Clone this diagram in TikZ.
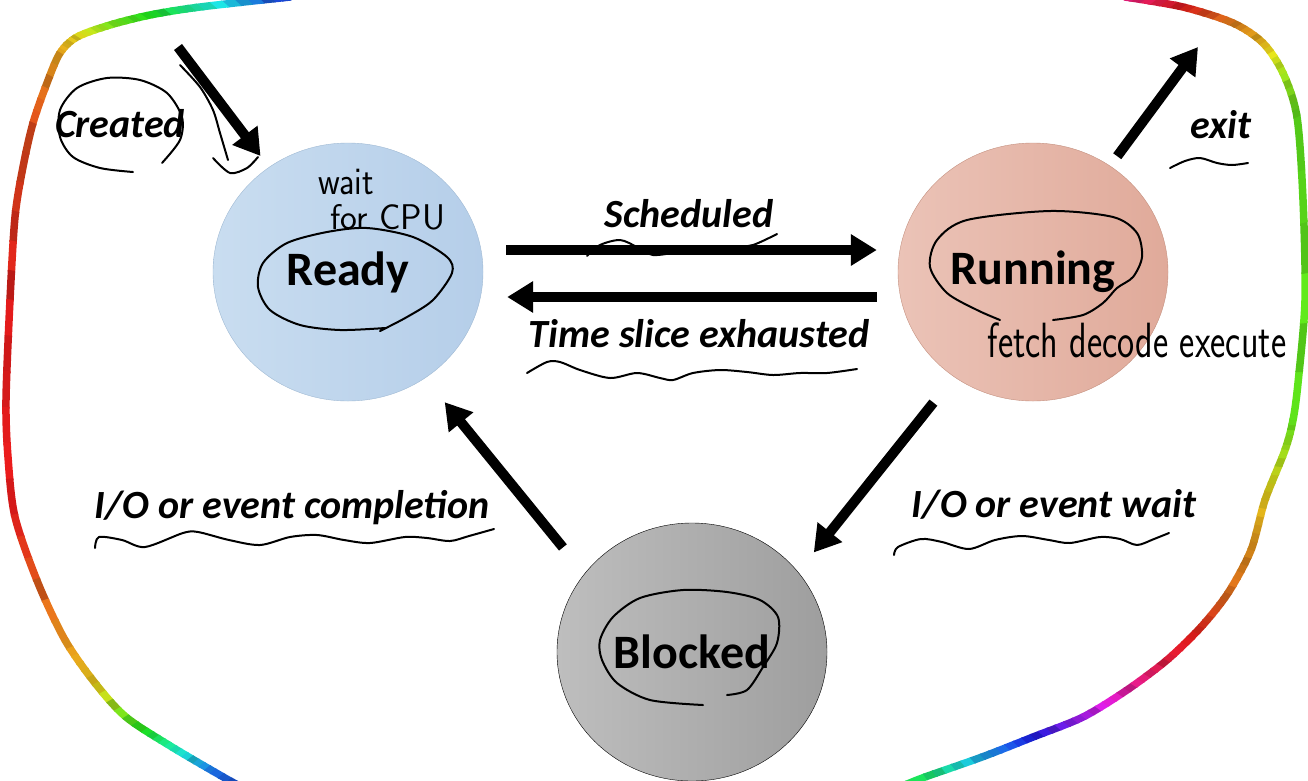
\documentclass[tikz,border=0pt]{standalone}
\usepackage{fontspec}
\setmainfont{Carlito}
\usepackage{tikz}
\usetikzlibrary{arrows.meta,shapes.geometric}

\definecolor{readyL}{HTML}{C9DDF0}
\definecolor{readyR}{HTML}{B5CEE9}
\definecolor{readyedge}{HTML}{9FB9D3}
\definecolor{runL}{HTML}{EBC3B7}
\definecolor{runR}{HTML}{E0AA9A}
\definecolor{runedge}{HTML}{C4907F}
\definecolor{blockL}{HTML}{BEBEBE}
\definecolor{blockR}{HTML}{9E9E9E}

\begin{document}
\begin{tikzpicture}[x=1pt,y=-1pt,
    procstate/.style={ellipse,minimum width=270pt,minimum height=258pt,
      font=\fontsize{48}{52}\selectfont\bfseries},
    tag/.style={font=\fontsize{40}{44}\selectfont\bfseries\itshape,anchor=base,inner sep=0pt},
    scrawl/.style={font=\fontsize{34}{36}\sffamily,anchor=base,inner sep=0pt},
    bigarrow/.style={line width=10pt,-{Triangle[length=26pt,width=30pt]}},
    hand/.style={line width=2pt,line cap=round,line join=round},
    rim/.style={line width=7.5pt,line cap=round}]
\useasboundingbox (0,0) rectangle (1308,780);
\clip (0,0) rectangle (1308,780);
\coordinate (hub) at (654,390);

\foreach \a/\ha/\b/\hb in {130/225/134.3/225, 134.3/225/139.8/165, 139.8/165/143.3/120, 143.3/120/146.1/92,
    146.1/92/148.5/55, 148.5/55/150.4/40, 150.4/40/156.7/15, 156.7/15/172/0, 172/0/191/0, 191/0/203/35,
    203/35/207.7/50, 207.7/50/213.7/120, 213.7/120/217.2/170, 217.2/170/220.8/215, 220.8/215/226/230} {
  \foreach \k in {0,...,5} {
    \pgfmathsetmacro\wa{\a+(\b-(\a))*\k/6}
    \pgfmathsetmacro\wb{\a+(\b-(\a))*(\k+1)/6+0.15}
    \pgfmathsetmacro\huev{mod(\ha+(\hb-(\ha))*(\k+0.5)/6+720,360)/360}
    \pgfmathsetmacro\briv{0.72+0.2*rnd}
    \definecolor{tmphsb}{hsb}{\huev,0.88,\briv}
    \colorlet{glitter}[rgb]{tmphsb}
    \begin{scope}
      \clip (hub) -- ([shift={(\wa:900pt)}]hub) -- ([shift={(\wb:900pt)}]hub) -- cycle;
      \draw[rim,draw=glitter] plot[smooth] coordinates {(290,-3) (200,7) (150,15) (110,25) (77,37) (60,53) (47,83) (33,123) (23,167) (15,217) (10,300) (6,400) (8,457) (15,517) (38,583) (65,640) (95,683) (126,717) (172,747) (225,778) (240,786)};
    \end{scope}
  }
}
\foreach \a/\ha/\b/\hb in {-62/130/-55/140, -55/140/-48.2/200, -48.2/200/-42.5/240, -42.5/240/-37.3/280,
    -37.3/280/-32.4/320, -32.4/320/-27.8/350, -27.8/350/-23.4/365, -23.4/365/-19.5/385, -19.5/385/-15/395,
    -15/395/-10.2/410, -10.2/410/-5.4/440, -5.4/440/-2.7/460, -2.7/460/23/460, 23/460/26.7/440,
    26.7/440/29.7/405, 29.7/405/32.4/390, 32.4/390/35.9/360, 35.9/360/39.8/330, 39.8/330/46/315} {
  \foreach \k in {0,...,5} {
    \pgfmathsetmacro\wa{\a+(\b-(\a))*\k/6}
    \pgfmathsetmacro\wb{\a+(\b-(\a))*(\k+1)/6+0.15}
    \pgfmathsetmacro\huev{mod(\ha+(\hb-(\ha))*(\k+0.5)/6+720,360)/360}
    \pgfmathsetmacro\briv{0.72+0.2*rnd}
    \definecolor{tmphsb}{hsb}{\huev,0.88,\briv}
    \colorlet{glitter}[rgb]{tmphsb}
    \begin{scope}
      \clip (hub) -- ([shift={(\wa:900pt)}]hub) -- ([shift={(\wb:900pt)}]hub) -- cycle;
      \draw[rim,draw=glitter] plot[smooth] coordinates {(1125,-3) (1183,7) (1233,23) (1263,43) (1283,73) (1297,117) (1303,200) (1305,300) (1298,383) (1293,420) (1285,450) (1265,500) (1251,550) (1228,593) (1201,627) (1167,660) (1127,690) (1083,717) (1033,737) (982,757) (925,777) (905,785)};
    \end{scope}
  }
}

\node[procstate,draw=readyedge,left color=readyL,right color=readyR] (ready) at (348,272) {Ready};
\node[procstate,draw=runedge,left color=runL,right color=runR] (running) at (1033,272) {Running};
\node[procstate,draw=black,left color=blockL,right color=blockR] (blocked) at (692,652) {Blocked};

\node[tag] (created) at (120,137) {Created};
\node[tag] (sched) at (689,227) {Scheduled};
\node[tag] (slice) at (699,347) {Time slice exhausted};
\node[tag] (exitlbl) at (1221,138) {exit};
\node[tag] (iodone) at (292,518) {I/O or event completion};
\node[tag] (iowait) at (1054,517) {I/O or event wait};

\node[scrawl] (waitcpu) at (346,194) {\scalebox{1}[1.15]{wait}};
\node[scrawl] (forcpu) at (388,229) {\scalebox{1.05}[1.05]{for CPU}};
\node[scrawl,font=\fontsize{33}{36}\sffamily] (fde) at (1137,357) {\scalebox{1.1}[1.5]{fetch decode execute}};

\draw[hand] plot[smooth] coordinates {(133,172) (100,168) (73,157) (60,137) (60,110) (77,88) (107,78) (140,80) (167,93) (182,117) (180,140) (162,163)};
\draw[hand] plot[smooth] coordinates {(180,65) (200,87) (213,110) (220,133) (228,160)};
\draw[hand] plot[smooth] coordinates {(213,158) (230,173) (247,168) (258,157)};
\draw[hand] plot[smooth] coordinates {(385,328) (340,330) (300,325) (270,310) (258,287) (263,263) (287,243) (327,232) (367,228) (413,237) (447,257) (452,273) (433,300) (407,317) (380,331)};
\draw[hand] plot[smooth] coordinates {(1000,320) (977,310) (947,293) (930,267) (937,240) (967,220) (1050,211) (1113,217) (1137,233) (1142,257) (1133,277) (1117,288) (1103,303) (1083,315) (1053,320)};
\draw[hand] plot[smooth] coordinates {(703,705) (650,700) (617,683) (602,660) (600,640) (613,617) (640,598) (683,590) (727,592) (760,600) (778,617) (777,643) (763,667) (747,690) (727,695)};

\draw[hand] plot[smooth] coordinates {(587,256) (600,245) (620,240) (637,247) (653,255) (680,252) (707,250) (733,247) (753,245) (777,234)};
\draw[hand] plot[smooth] coordinates {(527,373) (547,362) (560,362) (580,370) (610,378) (637,373) (660,378) (673,380) (693,373) (720,370) (747,372) (773,375) (800,373) (827,373) (857,369)};
\draw[hand] plot[smooth] coordinates {(1170,168) (1185,161) (1200,158) (1217,163) (1232,165) (1248,163)};
\draw[hand] plot[smooth] coordinates {(95,548) (99,537) (122,540) (145,547) (183,533) (198,532) (229,540) (260,545) (290,537) (317,535) (344,540) (370,543) (405,537) (427,538) (450,541) (469,536) (494,529)};
\draw[hand] plot[smooth] coordinates {(894,555) (898,547) (921,539) (942,542) (969,549) (995,540) (1022,536) (1049,540) (1070,543) (1100,537) (1120,539) (1137,545) (1154,539) (1169,533)};

\coordinate (newin) at (178,47);
\coordinate (gone) at (1198,47);
\draw[bigarrow,shorten >=14pt] (newin) -- (ready.127);
\draw[bigarrow,shorten <=23pt,shorten >=21pt] ([yshift=22pt]ready.east) -- ([yshift=22pt]running.west);
\draw[bigarrow,shorten <=21pt,shorten >=24pt] ([yshift=-25pt]running.west) -- ([yshift=-25pt]ready.east);
\draw[bigarrow,shorten <=12pt] (running.54) -- (gone);
\draw[bigarrow,shorten <=33pt,shorten >=25pt] (running.233) -- (blocked.37);
\draw[bigarrow,shorten <=34pt,shorten >=31pt] (blocked.144) -- (ready.306);
\end{tikzpicture}
\end{document}
